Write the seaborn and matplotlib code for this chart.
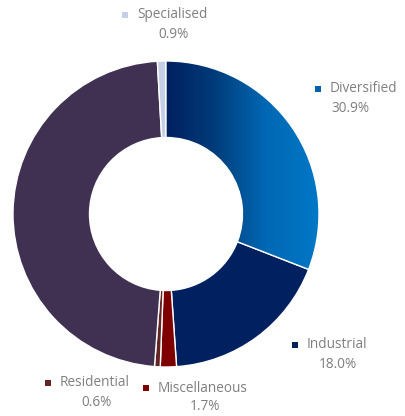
import numpy as np
import matplotlib
matplotlib.use("Agg")
import matplotlib.pyplot as plt
import seaborn as sns
from matplotlib.colors import LinearSegmentedColormap

# ---- data ----
categories = ["Diversified", "Industrial", "Miscellaneous", "Residential", "Other", "Specialised"]
shares = [30.9, 18.0, 1.7, 0.6, 47.9, 0.9]
show_label = [True, True, True, True, False, True]
colors = ["#00498f", "#002060", "#7f0000", "#632523", "#403152", "#c5cfe6"]

# ---- layout (pixels in a 405x416 canvas) ----
W, H = 405, 416
CX, CY, R = 166, 214, 153
label_pos = {  # (marker x, line1 y, line2 centre x, line2 y)
    "Specialised": (125, 15, 174, 34),
    "Diversified": (318, 89, 350, 108),
    "Industrial": (295, 345, 338, 364),
    "Residential": (48, 383, 97, 402),
    "Miscellaneous": (146, 388, 205, 407),
}

sns.set_theme(style="white")
plt.rcParams["font.family"] = ["Open Sans", "DejaVu Sans"]

fig = plt.figure(figsize=(W / 100, H / 100), dpi=100)
ax = fig.add_axes([0, 0, 1, 1])


def to_data(px, py):
    return (px - CX) / R, (CY - py) / R


wedges, _ = ax.pie(
    shares,
    colors=colors,
    startangle=90,
    counterclock=False,
    radius=1.0,
    wedgeprops=dict(width=0.5, edgecolor="white", linewidth=1.0),
)

ax.set_xlim(-CX / R, (W - CX) / R)
ax.set_ylim(-(H - CY) / R, CY / R)
ax.set_aspect("equal", adjustable="box")
ax.axis("off")

# gradient fill for Diversified
grad = LinearSegmentedColormap.from_list(
    "div", [(0.0, "#002060"), (0.3, "#003a78"), (0.65, "#0068b4"), (1.0, "#0078c6")]
)
gx = np.linspace(0, 1, 256).reshape(1, -1)
im = ax.imshow(gx, cmap=grad, extent=(0, 1.0, -0.5, 1.0), aspect="auto", zorder=1.5)
im.set_clip_path(wedges[0])
wedges[0].set_facecolor("none")
wedges[0].set_zorder(2)
ax.set_xlim(-CX / R, (W - CX) / R)
ax.set_ylim(-(H - CY) / R, CY / R)

text_color = "#7f7f7f"
fs = 9.8
for cat, col, show in zip(categories, colors, show_label):
    if not show:
        continue
    mx, y1, cx2, y2 = label_pos[cat]
    share = shares[categories.index(cat)]
    x, y = to_data(mx, y1)
    ax.scatter([x], [y], marker="s", s=22, color=(grad(0.6) if cat == "Diversified" else col),
               edgecolors="none", zorder=5)
    tx, ty = to_data(mx + 12, y1)
    ax.text(tx, ty, cat, ha="left", va="center", fontsize=fs, color=text_color)
    px, py = to_data(cx2, y2)
    ax.text(px, py, f"{share:.1f}%", ha="center", va="center", fontsize=fs, color=text_color)

fig.savefig("out.png", dpi=100)
